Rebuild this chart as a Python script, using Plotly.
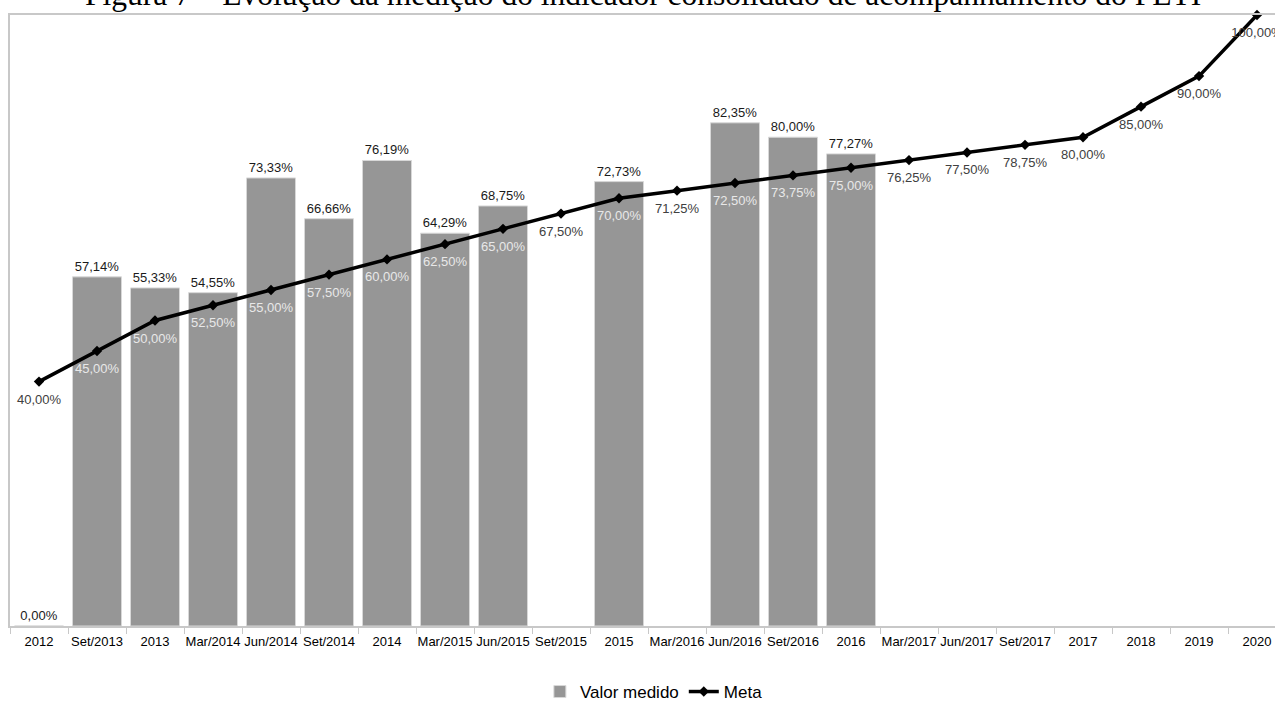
import plotly.graph_objects as go

categories = ["2012", "Set/2013", "2013", "Mar/2014", "Jun/2014", "Set/2014", "2014",
              "Mar/2015", "Jun/2015", "Set/2015", "2015", "Mar/2016", "Jun/2016",
              "Set/2016", "2016", "Mar/2017", "Jun/2017", "Set/2017", "2017",
              "2018", "2019", "2020"]

valor_medido = [0.00, 57.14, 55.33, 54.55, 73.33, 66.66, 76.19, 64.29, 68.75, None,
                72.73, None, 82.35, 80.00, 77.27, None, None, None, None, None, None, None]

meta = [40.00, 45.00, 50.00, 52.50, 55.00, 57.50, 60.00, 62.50, 65.00, 67.50,
        70.00, 71.25, 72.50, 73.75, 75.00, 76.25, 77.50, 78.75, 80.00, 85.00, 90.00, 100.00]

title_text = "Figura 7 – Evolução da medição do indicador consolidado de acompanhamento do PETI"

FONT = "Arial, Liberation Sans, sans-serif"


def fmt(v):
    return "" if v is None else f"{v:.2f}".replace(".", ",") + "%"


bar_text = [fmt(v) for v in valor_medido]
meta_text = [fmt(v) for v in meta]
meta_colors = ["#e8e8e8" if (b is not None and b > m) else "#404040"
               for b, m in zip(valor_medido, meta)]

fig = go.Figure()
fig.add_trace(go.Bar(
    x=categories, y=valor_medido, name="Valor medido",
    marker=dict(color="#969696", line=dict(color="#d8d8d8", width=1)),
    text=bar_text, textposition="outside", cliponaxis=False,
    textfont=dict(family=FONT, size=13, color="#1a1a1a"),
))
fig.add_trace(go.Scatter(
    x=categories, y=meta, name="Meta", mode="lines+markers",
    line=dict(color="#000000", width=3.5),
    marker=dict(symbol="diamond", size=8, color="#000000"),
    cliponaxis=False,
))
# labels for the Meta series (transparent markers give a larger label offset)
fig.add_trace(go.Scatter(
    x=categories, y=meta, name="Meta labels", mode="markers+text", showlegend=False,
    marker=dict(size=18, color="rgba(0,0,0,0)"),
    text=meta_text, textposition="bottom center", cliponaxis=False,
    textfont=dict(family=FONT, size=13, color=meta_colors),
    hoverinfo="skip",
))

fig.add_annotation(
    text=title_text, xref="paper", yref="paper", x=0.5, y=1.0, yshift=1,
    xanchor="center", yanchor="bottom", showarrow=False,
    font=dict(family="Liberation Serif, Times New Roman, serif", size=31.5, color="#000000"),
)

fig.update_layout(
    width=1275, height=702,
    margin=dict(l=10, r=0, t=15, b=76, autoexpand=False),
    paper_bgcolor="white", plot_bgcolor="white",
    bargap=0.155,
    showlegend=True,
    legend=dict(orientation="h", x=0.509, xanchor="center", y=-0.108, yanchor="middle",
                font=dict(family=FONT, size=17, color="#000000"),
                tracegroupgap=0),
    font=dict(family=FONT, size=13, color="#000000"),
)
fig.update_xaxes(
    type="category", range=[-0.5, 21.31], automargin=False,
    showline=True, linecolor="#c8c8c8", linewidth=1.5, mirror=True,
    ticks="outside", tickson="boundaries", ticklen=6, tickcolor="#c8c8c8",
    tickangle=0, ticklabelstandoff=3,
    tickfont=dict(family=FONT, size=13, color="#000000"),
    showgrid=False,
)
fig.update_yaxes(
    range=[0, 100], showticklabels=False, showgrid=False, zeroline=False,
    automargin=False,
    showline=True, linecolor="#c8c8c8", linewidth=1.5, mirror=False,
)

fig.write_html("out.html")
